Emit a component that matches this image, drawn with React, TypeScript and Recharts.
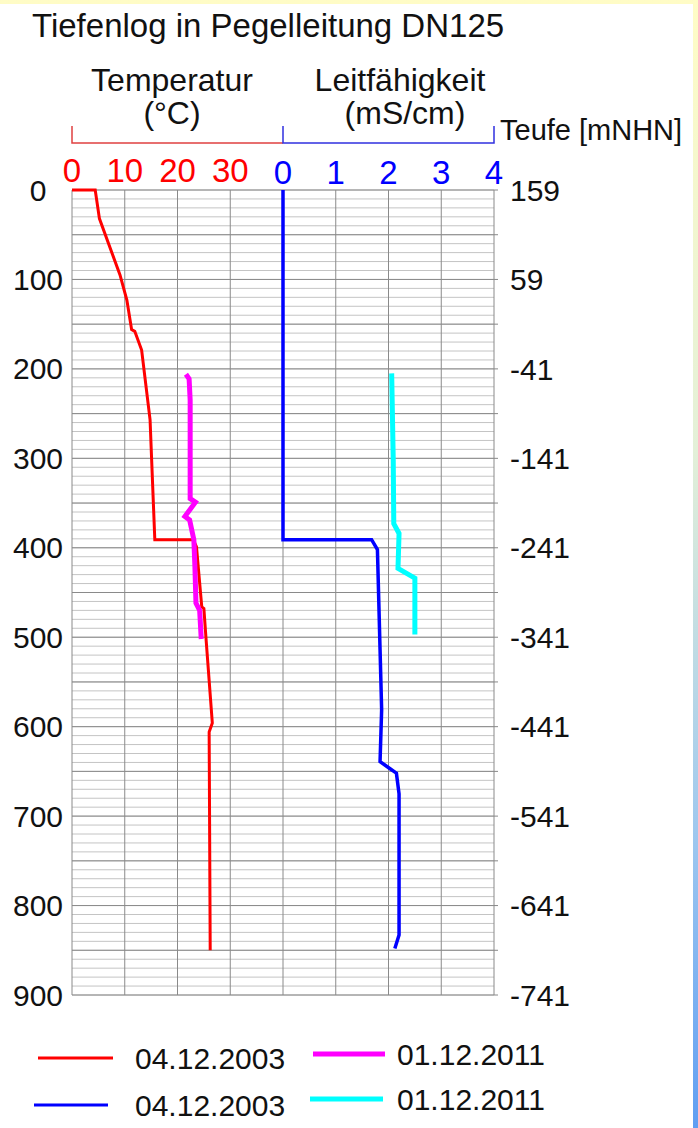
import { ScatterChart, Scatter, XAxis, YAxis, ReferenceLine } from "recharts";

// Temperatur 04.12.2003 (Tiefe m / °C)
const tempDepth2003 = [0, 0, 32, 95, 123, 156, 158, 179, 257, 302, 391, 391, 399, 466, 468, 501, 596, 606, 850];
const temp2003 = [0, 4.4, 5.2, 9.1, 10.4, 11.3, 11.9, 13.2, 14.8, 15.1, 15.7, 23.0, 23.6, 24.6, 25.0, 25.4, 26.6, 26.0, 26.2];

// Temperatur 01.12.2011
const tempDepth2011 = [206, 211, 235, 345, 349, 365, 369, 391, 421, 462, 470, 502];
const temp2011 = [21.6, 22.2, 22.4, 22.4, 23.4, 21.4, 22.3, 23.1, 23.3, 23.5, 24.2, 24.5];

// Leitfähigkeit 04.12.2003 (mS/cm)
const condDepth2003 = [0, 391, 391, 402, 514, 581, 639, 647, 652, 675, 833, 848];
const cond2003 = [0, 0, 1.68, 1.79, 1.84, 1.87, 1.84, 2.03, 2.15, 2.2, 2.2, 2.12];

// Leitfähigkeit 01.12.2011
const condDepth2011 = [205, 302, 373, 384, 423, 434, 497];
const cond2011 = [2.06, 2.09, 2.1, 2.2, 2.18, 2.5, 2.5];

const depthTicks = [0, 100, 200, 300, 400, 500, 600, 700, 800, 900];
const nhnTicks = [159, 109, 59, 9, -41, -91, -141, -191, -241, -291, -341, -391, -441, -491, -541, -591, -641, -691, -741];
const tempTicks = [0, 10, 20, 30];
const condTicks = [0, 1, 2, 3, 4];

// grid: every 10 m light, every 50 m darker, verticals every 10 °C
const minorDepths = Array.from({ length: 91 }, (_, i) => i * 10);
const majorDepths = Array.from({ length: 19 }, (_, i) => i * 50);
const verticalTemps = Array.from({ length: 9 }, (_, i) => i * 10);

const zip = (depths: number[], vals: number[]) => depths.map((d, i) => ({ depth: d, v: vals[i] }));

const noDot = () => <g />;

const DepthTick = ({ x, y, payload }: any) => (
  <text x={x} y={y} dy={10.5} textAnchor="middle" fontSize={30} fill="#111">
    {payload.value}
  </text>
);

const TopTick = ({ x, y, payload, color }: any) => (
  <text x={x} y={y} textAnchor="middle" fontSize={33} fill={color}>
    {payload.value}
  </text>
);

export default function App() {
  return (
    <div
      style={{
        position: "relative",
        width: 698,
        height: 1128,
        overflow: "hidden",
        fontFamily: '"Liberation Sans", Arial, sans-serif',
        background: "linear-gradient(180deg, #fffcc6 0%, #e3f0d8 40%, #9cc6ef 75%, #5f9ef2 100%)",
      }}
    >
      <style>{"body{margin:0}"}</style>
      <div style={{ position: "absolute", left: 0, top: 4, right: 5, bottom: 0, background: "#fff" }} />
      <div style={{ position: "absolute", left: 0, top: 0 }}>
        <ScatterChart width={698} height={1128} margin={{ top: 188, left: 12, right: 84, bottom: 133 }}>
          <XAxis xAxisId="t" type="number" dataKey="v" orientation="top" domain={[0, 80]} ticks={tempTicks}
            height={1} tickSize={0} tickMargin={7} axisLine={false} tickLine={false}
            tick={<TopTick color="#ff0000" />} />
          <XAxis xAxisId="c" type="number" dataKey="v" orientation="top" domain={[-4, 4]} ticks={condTicks}
            height={1} tickSize={0} tickMargin={6} axisLine={false} tickLine={false}
            tick={<TopTick color="#0000ff" />} />
          <YAxis yAxisId="d" type="number" dataKey="depth" domain={[0, 900]} reversed ticks={depthTicks}
            width={60} tickSize={0} tickMargin={34} axisLine={false} tickLine={false} tick={<DepthTick />} />
          <YAxis yAxisId="m" type="number" orientation="right" domain={[-741, 159]} allowDataOverflow
            ticks={nhnTicks} width={120} tickSize={4} tickMargin={12} axisLine={false} fontSize={30}
            tickLine={{ stroke: "#888" }} tick={{ fill: "#111", fontSize: 30 }}
            tickFormatter={(v: number) => ((159 - v) % 100 === 0 ? String(v) : "")} />
          {minorDepths.map((d) => (
            <ReferenceLine key={"n" + d} y={d} xAxisId="t" yAxisId="d" stroke="#c4c4c4" strokeWidth={1} />
          ))}
          {majorDepths.map((d) => (
            <ReferenceLine key={"j" + d} y={d} xAxisId="t" yAxisId="d" stroke="#8a8a8a" strokeWidth={1} />
          ))}
          {verticalTemps.map((t) => (
            <ReferenceLine key={"v" + t} x={t} xAxisId="t" yAxisId="d" stroke="#8a8a8a" strokeWidth={1} />
          ))}
          <Scatter data={zip(tempDepth2003, temp2003)} xAxisId="t" yAxisId="d" fill="#ff0000"
            line={{ stroke: "#ff0000", strokeWidth: 3 }} shape={noDot} isAnimationActive={false} />
          <Scatter data={zip(tempDepth2011, temp2011)} xAxisId="t" yAxisId="d" fill="#ff00ff"
            line={{ stroke: "#ff00ff", strokeWidth: 5 }} shape={noDot} isAnimationActive={false} />
          <Scatter data={zip(condDepth2003, cond2003)} xAxisId="c" yAxisId="d" fill="#0000ff"
            line={{ stroke: "#0000ff", strokeWidth: 3.5 }} shape={noDot} isAnimationActive={false} />
          <Scatter data={zip(condDepth2011, cond2011)} xAxisId="c" yAxisId="d" fill="#00ffff"
            line={{ stroke: "#00ffff", strokeWidth: 5 }} shape={noDot} isAnimationActive={false} />
        </ScatterChart>
      </div>
      <svg width={698} height={1128} style={{ position: "absolute", left: 0, top: 0, pointerEvents: "none" }}>
        <text x={32} y={37} fontSize={33} fill="#111">Tiefenlog in Pegelleitung DN125</text>
        <text x={172} y={91} fontSize={32} fill="#111" textAnchor="middle">Temperatur</text>
        <text x={172} y={124} fontSize={32} fill="#111" textAnchor="middle">(°C)</text>
        <text x={400} y={91} fontSize={32} fill="#111" textAnchor="middle">Leitfähigkeit</text>
        <text x={405} y={124} fontSize={32} fill="#111" textAnchor="middle">(mS/cm)</text>
        <text x={500} y={140} fontSize={29} fill="#111">Teufe [mNHN]</text>
        <path d="M72 126 V143 H283" stroke="#e04040" strokeWidth={1.5} fill="none" />
        <path d="M283 126 V143 H494 V126" stroke="#3030e0" strokeWidth={1.5} fill="none" />

        <line x1={38} x2={113} y1={1058} y2={1058} stroke="#ff0000" strokeWidth={3} />
        <text x={135} y={1069} fontSize={30} fill="#111">04.12.2003</text>
        <line x1={313} x2={385} y1={1054} y2={1054} stroke="#ff00ff" strokeWidth={5} />
        <text x={397} y={1065} fontSize={30} fill="#111">01.12.2011</text>
        <line x1={34} x2={108} y1={1105} y2={1105} stroke="#0000ff" strokeWidth={3} />
        <text x={135} y={1116} fontSize={30} fill="#111">04.12.2003</text>
        <line x1={310} x2={383} y1={1099} y2={1099} stroke="#00ffff" strokeWidth={5} />
        <text x={397} y={1110} fontSize={30} fill="#111">01.12.2011</text>
      </svg>
    </div>
  );
}
